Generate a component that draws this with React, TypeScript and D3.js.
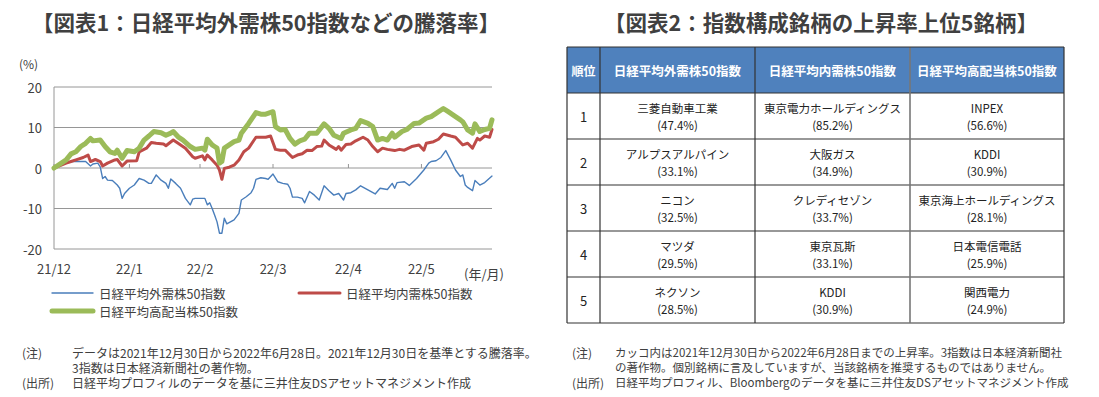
import React from 'react';
import * as d3 from 'd3';

// 騰落率 (%)
const gaijuSeries: [string, number][] = [
  ['2021-12-30', 0], ['2022-01-04', 1.5], ['2022-01-07', 1.6], ['2022-01-12', 1.6], ['2022-01-14', 0.5],
  ['2022-01-15', 1.0], ['2022-01-17', 1.2], ['2022-01-18', 0.3], ['2022-01-19', -2.6], ['2022-01-20', -2.1],
  ['2022-01-21', -3.0], ['2022-01-23', -3.1], ['2022-01-25', -4.2], ['2022-01-26', -5.0], ['2022-01-27', -7.5],
  ['2022-01-28', -6.3], ['2022-01-30', -5.0], ['2022-02-01', -4.2], ['2022-02-03', -2.6], ['2022-02-05', -3.0],
  ['2022-02-07', -3.8], ['2022-02-08', -3.8], ['2022-02-10', -1.7], ['2022-02-12', -3.0], ['2022-02-14', -3.8],
  ['2022-02-15', -5.0], ['2022-02-16', -2.7], ['2022-02-18', -3.8], ['2022-02-20', -5.0], ['2022-02-22', -7.5],
  ['2022-02-24', -9.1], ['2022-02-25', -7.7], ['2022-02-26', -7.5], ['2022-03-01', -7.5], ['2022-03-02', -7.5],
  ['2022-03-03', -9.1], ['2022-03-04', -8.6], ['2022-03-05', -10.0], ['2022-03-06', -11.6], ['2022-03-07', -13.3],
  ['2022-03-08', -16.1], ['2022-03-09', -16.1], ['2022-03-10', -12.4], ['2022-03-11', -13.8], ['2022-03-14', -12.8],
  ['2022-03-16', -11.2], ['2022-03-17', -7.9], ['2022-03-19', -7.1], ['2022-03-21', -6.1], ['2022-03-22', -5.0],
  ['2022-03-23', -2.8], ['2022-03-25', -2.4], ['2022-03-27', -2.6], ['2022-03-28', -2.8], ['2022-03-30', -1.5],
  ['2022-04-01', -3.4], ['2022-04-03', -3.8], ['2022-04-05', -4.0], ['2022-04-06', -5.0], ['2022-04-07', -7.2],
  ['2022-04-09', -7.2], ['2022-04-11', -7.5], ['2022-04-12', -8.6], ['2022-04-14', -5.8], ['2022-04-16', -6.7],
  ['2022-04-18', -7.9], ['2022-04-20', -4.4], ['2022-04-22', -5.6], ['2022-04-24', -6.7], ['2022-04-26', -6.3],
  ['2022-04-28', -7.9], ['2022-04-29', -6.3], ['2022-05-01', -6.1], ['2022-05-03', -5.4], ['2022-05-05', -4.4],
  ['2022-05-08', -5.4], ['2022-05-11', -6.4], ['2022-05-13', -5.0], ['2022-05-16', -5.3], ['2022-05-18', -3.8],
  ['2022-05-19', -5.0], ['2022-05-20', -3.6], ['2022-05-23', -3.4], ['2022-05-25', -4.3], ['2022-05-28', -2.6],
  ['2022-05-31', -0.5], ['2022-06-02', 1.2], ['2022-06-03', 1.6], ['2022-06-05', 1.8], ['2022-06-07', 2.6],
  ['2022-06-09', 4.3], ['2022-06-11', 2.0], ['2022-06-13', -0.5], ['2022-06-14', -1.3], ['2022-06-15', -2.1],
  ['2022-06-16', -1.7], ['2022-06-17', -4.2], ['2022-06-18', -4.8], ['2022-06-20', -5.6], ['2022-06-21', -3.1],
  ['2022-06-23', -4.2], ['2022-06-25', -3.6], ['2022-06-28', -2.0],
];

const naijuSeries: [string, number][] = [
  ['2021-12-30', 0], ['2022-01-04', 1.2], ['2022-01-06', 1.6], ['2022-01-08', 2.0], ['2022-01-11', 2.6],
  ['2022-01-13', 3.2], ['2022-01-14', 1.6], ['2022-01-16', 2.1], ['2022-01-18', 1.6], ['2022-01-19', 0.5],
  ['2022-01-21', 1.2], ['2022-01-24', 2.0], ['2022-01-25', 2.1], ['2022-01-27', 0.5], ['2022-01-29', 1.7],
  ['2022-02-02', 1.8], ['2022-02-03', 4.0], ['2022-02-06', 4.9], ['2022-02-08', 6.3], ['2022-02-10', 6.1],
  ['2022-02-13', 5.9], ['2022-02-14', 5.5], ['2022-02-17', 6.9], ['2022-02-19', 6.1], ['2022-02-22', 4.9],
  ['2022-02-25', 2.8], ['2022-02-26', 2.4], ['2022-03-01', 3.0], ['2022-03-02', 2.0], ['2022-03-03', 3.2],
  ['2022-03-05', 2.0], ['2022-03-07', 0.7], ['2022-03-08', -0.5], ['2022-03-09', -2.8], ['2022-03-10', -0.1],
  ['2022-03-12', 0.2], ['2022-03-14', 0.7], ['2022-03-16', 2.0], ['2022-03-18', 4.0], ['2022-03-20', 4.9],
  ['2022-03-23', 7.6], ['2022-03-25', 7.6], ['2022-03-27', 7.6], ['2022-03-29', 7.9], ['2022-03-31', 4.6],
  ['2022-04-02', 4.4], ['2022-04-04', 4.4], ['2022-04-07', 2.6], ['2022-04-09', 3.2], ['2022-04-11', 3.5],
  ['2022-04-13', 4.4], ['2022-04-15', 4.3], ['2022-04-17', 5.3], ['2022-04-19', 5.4], ['2022-04-20', 6.9],
  ['2022-04-22', 5.7], ['2022-04-25', 4.6], ['2022-04-26', 5.3], ['2022-04-27', 4.4], ['2022-04-29', 5.8],
  ['2022-05-01', 5.9], ['2022-05-03', 6.7], ['2022-05-06', 7.6], ['2022-05-08', 6.9], ['2022-05-10', 5.3],
  ['2022-05-12', 4.0], ['2022-05-14', 4.9], ['2022-05-16', 4.6], ['2022-05-19', 4.3], ['2022-05-21', 4.6],
  ['2022-05-23', 4.4], ['2022-05-26', 5.3], ['2022-05-29', 5.7], ['2022-05-31', 4.4], ['2022-06-01', 6.1],
  ['2022-06-04', 6.5], ['2022-06-06', 7.1], ['2022-06-08', 8.4], ['2022-06-11', 7.9], ['2022-06-13', 7.6],
  ['2022-06-16', 5.7], ['2022-06-18', 6.1], ['2022-06-20', 4.9], ['2022-06-22', 7.3], ['2022-06-23', 6.9],
  ['2022-06-25', 7.9], ['2022-06-27', 7.6], ['2022-06-28', 9.5],
];

const kohaitoSeries: [string, number][] = [
  ['2021-12-30', 0], ['2022-01-04', 2.0], ['2022-01-06', 3.5], ['2022-01-08', 4.0], ['2022-01-10', 5.3],
  ['2022-01-12', 6.1], ['2022-01-14', 7.3], ['2022-01-15', 6.7], ['2022-01-18', 6.9], ['2022-01-20', 5.3],
  ['2022-01-22', 4.0], ['2022-01-24', 3.6], ['2022-01-25', 4.4], ['2022-01-27', 2.4], ['2022-01-29', 4.3],
  ['2022-02-01', 4.0], ['2022-02-03', 4.9], ['2022-02-05', 6.9], ['2022-02-07', 7.9], ['2022-02-09', 9.0],
  ['2022-02-12', 8.7], ['2022-02-14', 8.1], ['2022-02-16', 8.6], ['2022-02-17', 9.0], ['2022-02-19', 7.7],
  ['2022-02-21', 6.9], ['2022-02-24', 5.3], ['2022-02-26', 4.6], ['2022-03-01', 4.9], ['2022-03-02', 4.4],
  ['2022-03-03', 7.1], ['2022-03-05', 5.7], ['2022-03-06', 5.3], ['2022-03-07', 4.9], ['2022-03-08', 1.2],
  ['2022-03-09', 1.6], ['2022-03-10', 4.9], ['2022-03-12', 5.7], ['2022-03-14', 6.5], ['2022-03-16', 6.9],
  ['2022-03-17', 8.6], ['2022-03-20', 11.0], ['2022-03-23', 13.7], ['2022-03-25', 13.3], ['2022-03-27', 13.3],
  ['2022-03-30', 13.9], ['2022-03-31', 10.2], ['2022-04-02', 9.4], ['2022-04-04', 9.5], ['2022-04-06', 7.3],
  ['2022-04-08', 5.9], ['2022-04-10', 6.7], ['2022-04-12', 7.1], ['2022-04-14', 8.6], ['2022-04-17', 8.6],
  ['2022-04-20', 10.9], ['2022-04-22', 9.8], ['2022-04-24', 8.1], ['2022-04-27', 7.3], ['2022-04-28', 8.6],
  ['2022-05-01', 9.4], ['2022-05-03', 9.8], ['2022-05-05', 11.7], ['2022-05-08', 11.0], ['2022-05-10', 10.2],
  ['2022-05-12', 6.9], ['2022-05-14', 7.3], ['2022-05-16', 6.9], ['2022-05-18', 8.6], ['2022-05-19', 7.6],
  ['2022-05-22', 9.0], ['2022-05-24', 9.5], ['2022-05-27', 11.0], ['2022-05-29', 11.1], ['2022-06-01', 12.3],
  ['2022-06-03', 12.7], ['2022-06-05', 13.5], ['2022-06-08', 14.7], ['2022-06-10', 13.9], ['2022-06-13', 12.7],
  ['2022-06-15', 11.9], ['2022-06-16', 11.4], ['2022-06-18', 9.4], ['2022-06-20', 8.6], ['2022-06-21', 10.9],
  ['2022-06-23', 9.0], ['2022-06-25', 9.5], ['2022-06-27', 9.8], ['2022-06-28', 11.9],
];

const seriesNames = ['日経平均外需株50指数', '日経平均内需株50指数', '日経平均高配当株50指数'];
const yTicks = [20, 10, 0, -10, -20];
const xTickDates = ['2021-12-30', '2022-01-30', '2022-02-28', '2022-03-30', '2022-04-30', '2022-05-30'];
const xTickLabels = ['21/12', '22/1', '22/2', '22/3', '22/4', '22/5'];

// table
const tableHeaders = ['順位', '日経平均外需株50指数', '日経平均内需株50指数', '日経平均高配当株50指数'];
const ranks = ['1', '2', '3', '4', '5'];
const gaijuNames = ['三菱自動車工業', 'アルプスアルパイン', 'ニコン', 'マツダ', 'ネクソン'];
const gaijuRates = [47.4, 33.1, 32.5, 29.5, 28.5];
const naijuNames = ['東京電力ホールディングス', '大阪ガス', 'クレディセゾン', '東京瓦斯', 'KDDI'];
const naijuRates = [85.2, 34.9, 33.7, 33.1, 30.9];
const kohaitoNames = ['INPEX', 'KDDI', '東京海上ホールディングス', '日本電信電話', '関西電力'];
const kohaitoRates = [56.6, 30.9, 28.1, 25.9, 24.9];

const leftNotes = [
  ['(注)', 'データは2021年12月30日から2022年6月28日。2021年12月30日を基準とする騰落率。'],
  ['', '3指数は日本経済新聞社の著作物。'],
  ['(出所)', '日経平均プロフィルのデータを基に三井住友DSアセットマネジメント作成'],
];
const rightNotes = [
  ['(注)', 'カッコ内は2021年12月30日から2022年6月28日までの上昇率。3指数は日本経済新聞社'],
  ['', 'の著作物。個別銘柄に言及していますが、当該銘柄を推奨するものではありません。'],
  ['(出所)', '日経平均プロフィル、Bloombergのデータを基に三井住友DSアセットマネジメント作成'],
];

const FONT = '"Noto Sans CJK JP", "Noto Sans", sans-serif';
const TEXT = '#404040';
const GRID = '#969696';
const COLORS = ['#4a7ebb', '#be4b48', '#9bbb59'];
const WIDTHS = [1.4, 3, 5];

const parse = d3.timeParse('%Y-%m-%d');

const App = () => {
  const plot = { left: 54, right: 492, top: 87, bottom: 249 };

  const x = d3.scaleTime()
    .domain([parse('2021-12-30'), parse('2022-06-28')])
    .range([plot.left, plot.right]);
  const y = d3.scaleLinear().domain([-20, 20]).range([plot.bottom, plot.top]);

  const line = d3.line<[string, number]>()
    .x(d => x(parse(d[0])))
    .y(d => y(d[1]));

  const series = [gaijuSeries, naijuSeries, kohaitoSeries];

  // table layout
  const colEdges = [567, 600, 755, 910, 1064];
  const tableTop = 47;
  const headerBottom = 93;
  const tableBottom = 323;
  const row = d3.scaleBand().domain(ranks).range([headerBottom, tableBottom]);
  const cols = [
    { names: gaijuNames, rates: gaijuRates },
    { names: naijuNames, rates: naijuRates },
    { names: kohaitoNames, rates: kohaitoRates },
  ];
  const fmt = (v: number) => `(${v.toFixed(1)}%)`;

  return (
    <svg width={1099} height={397} style={{ position: 'absolute', left: 0, top: 0, background: '#fff' }} fontFamily={FONT}>
      {/* titles */}
      <text x={266} y={21} textAnchor="middle" dominantBaseline="central" fontSize={21.5} fontWeight="bold" fill={TEXT}>
        【図表1：日経平均外需株50指数などの騰落率】
      </text>
      <text x={821} y={21} textAnchor="middle" dominantBaseline="central" fontSize={21.5} fontWeight="bold" fill={TEXT}>
        【図表2：指数構成銘柄の上昇率上位5銘柄】
      </text>

      {/* left chart */}
      <text x={19} y={63} dominantBaseline="central" fontSize={12} fill={TEXT}>(%)</text>
      {yTicks.map(v => (
        <g key={v}>
          <line x1={plot.left} x2={plot.right} y1={y(v)} y2={y(v)} stroke={GRID} strokeWidth={1} />
          <text x={42} y={y(v)} textAnchor="end" dominantBaseline="central" fontSize={13} fill={TEXT}>{v}</text>
        </g>
      ))}
      <line x1={plot.left} x2={plot.left} y1={plot.top} y2={plot.bottom} stroke={GRID} strokeWidth={1} />
      {xTickDates.map((d, i) => (
        <g key={d}>
          <line x1={x(parse(d))} x2={x(parse(d))} y1={y(0)} y2={y(0) - 4} stroke={GRID} strokeWidth={1} />
          <text x={x(parse(d))} y={268} textAnchor="middle" dominantBaseline="central" fontSize={13} fill={TEXT}>
            {xTickLabels[i]}
          </text>
        </g>
      ))}
      <text x={484} y={273} textAnchor="middle" dominantBaseline="central" fontSize={13} fill={TEXT}>(年/月)</text>

      {series.map((s, i) => (
        <path key={i} d={line(s) || ''} fill="none" stroke={COLORS[i]} strokeWidth={WIDTHS[i]}
          strokeLinejoin="round" strokeLinecap="round" />
      ))}

      {/* legend */}
      {[
        { lx: 52, ly: 293 },
        { lx: 299, ly: 293 },
        { lx: 52, ly: 311 },
      ].map((p, i) => (
        <g key={i}>
          <line x1={p.lx} x2={p.lx + 41} y1={p.ly} y2={p.ly} stroke={COLORS[i]} strokeWidth={WIDTHS[i]} strokeLinecap="round" />
          <text x={p.lx + 47} y={p.ly} dominantBaseline="central" fontSize={12.5} fill={TEXT}>{seriesNames[i]}</text>
        </g>
      ))}

      {/* table */}
      <rect x={colEdges[0]} y={tableTop} width={colEdges[4] - colEdges[0]} height={headerBottom - tableTop} fill="#4f81bd" />
      {tableHeaders.map((h, i) => (
        <text key={h} x={(colEdges[i] + colEdges[i + 1]) / 2} y={(tableTop + headerBottom) / 2}
          textAnchor="middle" dominantBaseline="central" fontSize={i === 0 ? 12 : 12.5} fontWeight="bold" fill="#fff">{h}</text>
      ))}
      {ranks.map((r, ri) => {
        const top = row(r) as number;
        const cy = top + row.bandwidth() / 2;
        return (
          <g key={r}>
            <text x={(colEdges[0] + colEdges[1]) / 2} y={cy} textAnchor="middle" dominantBaseline="central" fontSize={13} fill="#222">{r}</text>
            {cols.map((c, ci) => {
              const cx = (colEdges[ci + 1] + colEdges[ci + 2]) / 2;
              return (
                <g key={ci}>
                  <text x={cx} y={cy - 8.5} textAnchor="middle" dominantBaseline="central" fontSize={11.5} fill="#222">{c.names[ri]}</text>
                  <text x={cx} y={cy + 8.5} textAnchor="middle" dominantBaseline="central" fontSize={11.5} fill="#222">{fmt(c.rates[ri])}</text>
                </g>
              );
            })}
            <line x1={colEdges[0]} x2={colEdges[4]} y1={top} y2={top} stroke="#333" strokeWidth={1.2} />
          </g>
        );
      })}
      <line x1={colEdges[0]} x2={colEdges[4]} y1={tableBottom} y2={tableBottom} stroke="#333" strokeWidth={1.2} />
      {colEdges.map((cx, i) => (
        <line key={i} x1={cx} x2={cx} y1={tableTop} y2={tableBottom} stroke={i === 3 ? '#777' : '#333'} strokeWidth={i === 3 ? 1.6 : 1.2} />
      ))}
      <line x1={colEdges[0]} x2={colEdges[4]} y1={tableTop} y2={tableTop} stroke="#333" strokeWidth={1.2} />

      {/* notes */}
      {leftNotes.map((n, i) => (
        <g key={i}>
          <text x={22} y={352 + i * 15} dominantBaseline="central" fontSize={12} fill={TEXT}>{n[0]}</text>
          <text x={72} y={352 + i * 15} dominantBaseline="central" fontSize={12} fill={TEXT}>{n[1]}</text>
        </g>
      ))}
      {rightNotes.map((n, i) => (
        <g key={i}>
          <text x={572} y={352 + i * 15} dominantBaseline="central" fontSize={12} fill={TEXT}>{n[0]}</text>
          <text x={615} y={352 + i * 15} dominantBaseline="central" fontSize={11.5} fill={TEXT}>{n[1]}</text>
        </g>
      ))}
    </svg>
  );
};

export default App;
